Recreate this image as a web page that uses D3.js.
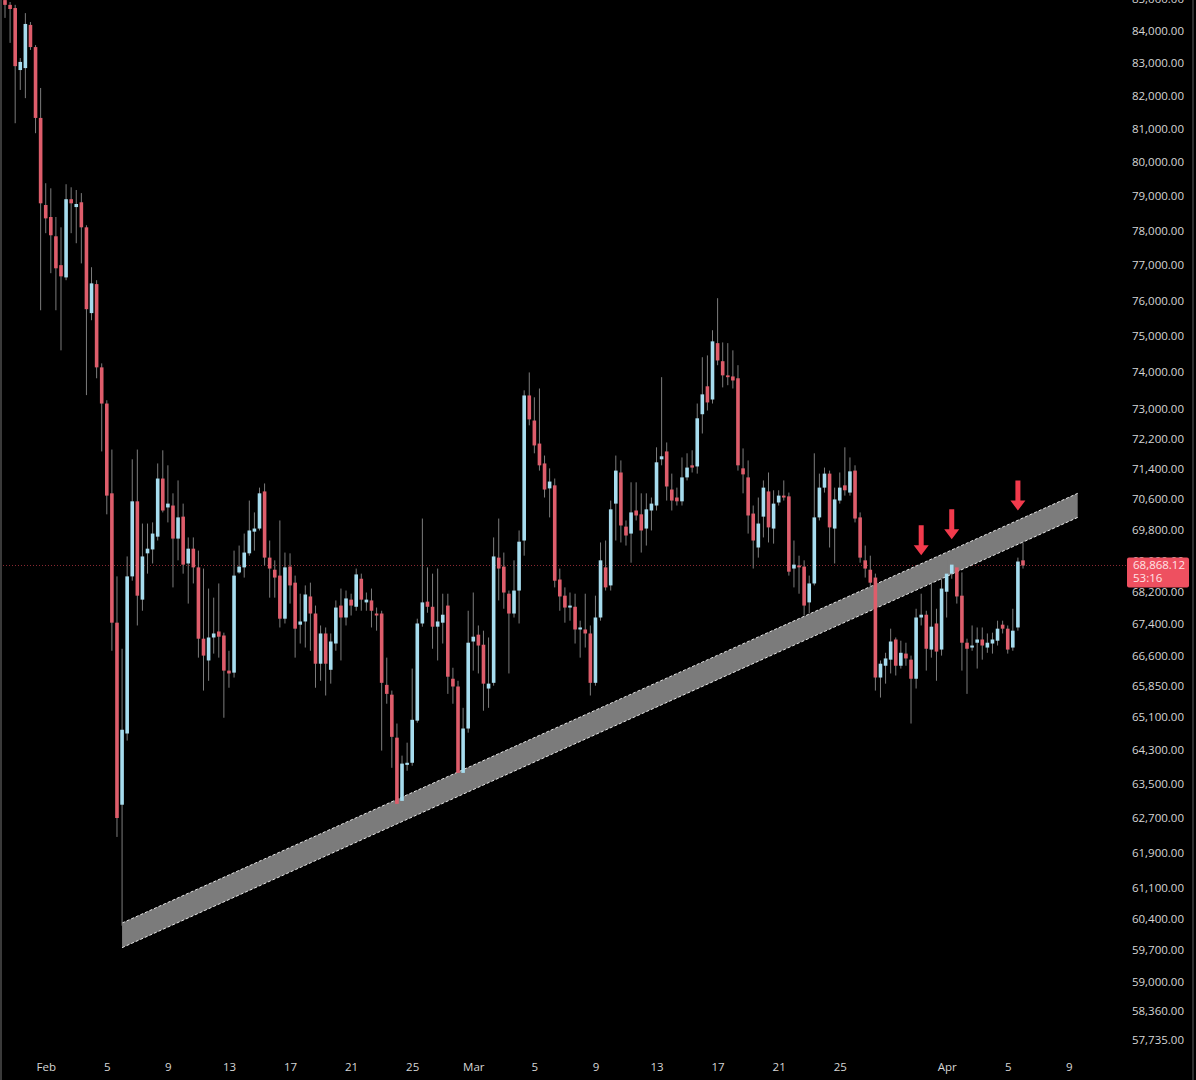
<!DOCTYPE html>
<html>
<head>
<meta charset="utf-8">
<script src="https://cdn.jsdelivr.net/npm/d3@7"></script>
<style>
  html, body { margin: 0; padding: 0; background: #000; }
  svg { display: block; }
</style>
</head>
<body>
<svg id="chart"></svg>
<script>
// 8h candles, first one opens 29 Jan 08:00 UTC
const START = "2026-01-29T08:00:00Z";

const OPEN = [
  84970, 84820, 84720, 82790, 82850, 84190, 83500, 81330, 78740, 78390,
  77830, 77000, 76650, 78910, 78680, 78820, 78090, 75640, 76460, 74130,
  73140, 70740, 67420, 63010, 64700, 68590, 70530, 68000, 69180, 69280,
  69610, 71130, 70370, 70420, 69560, 70130, 68920, 69300, 68820, 67020,
  66480, 67050, 67200, 67100, 66230, 66180, 68690, 68820, 69180, 69740,
  69820, 70790, 69070, 68760, 68610, 67520, 68840, 68430, 67370, 67450,
  68080, 67650, 66400, 67150, 66250, 66900, 67850, 67550, 68000, 67820,
  68530, 67930, 67980, 67650, 67650, 65880, 65640, 64600, 63100, 63950,
  64000, 65010, 67400, 67950, 67820, 67320, 67420, 67850, 66030, 65840,
  63760, 64820, 66950, 67120, 66870, 65790, 65930, 69070, 68840, 68150,
  67650, 68230, 69510, 73360, 72680, 72060, 71530, 70870, 70950, 68510,
  68100, 67800, 67820, 67250, 67250, 67150, 65930, 67550, 68820, 68360,
  70470, 71290, 69870, 69690, 70290, 70190, 69820, 70290, 70420, 71640,
  71850, 70840, 70630, 70530, 71160, 71480, 71450, 72850, 73610, 73250,
  74800, 74300, 73910, 73880, 73830, 71400, 71160, 70210, 69330, 70130,
  70790, 69820, 70500, 70680, 70660, 68790, 68870, 68840, 67930, 68410,
  70110, 70890, 71260, 69820, 70550, 70950, 70760, 71340, 70110, 69000,
  68760, 68560, 66060, 66350, 66500, 67000, 66350, 66650, 66500, 66030,
  67550, 67620, 66750, 67400, 66750, 68200, 68660, 68820, 68100, 66920,
  66800, 66920, 67000, 66800, 66900, 66970, 67370, 67270, 66800, 67300,
  69000
];
const HIGH = [
  85070, 84910, 84820, 83160, 84560, 84280, 83560, 82240, 79380, 79230,
  78390, 78090, 79350, 79260, 79180, 79090, 78150, 76940, 76570, 74240,
  73230, 71900, 68590, 66770, 69100, 71640, 71900, 69950, 69950, 69980,
  71530, 71880, 71480, 70740, 71080, 70470, 69590, 69590, 69250, 68790,
  68280, 68050, 68410, 67170, 66720, 69250, 69380, 69690, 70550, 70240,
  70890, 71000, 69510, 69000, 70030, 69200, 69180, 68610, 68150, 68360,
  68430, 67850, 67350, 67300, 67150, 67980, 68280, 68230, 68150, 68790,
  68660, 68180, 68280, 67800, 67720, 66550, 65740, 64940, 64170, 64480,
  66280, 67520, 70080, 68820, 68660, 68790, 68150, 68150, 66300, 65980,
  65320, 67720, 68180, 67350, 67220, 67050, 69590, 70080, 69200, 68230,
  69000, 69770, 73500, 73990, 73310, 73550, 71740, 71400, 71130, 68790,
  68310, 68180, 68150, 67470, 68150, 67350, 68100, 69460, 69510, 70550,
  71740, 71610, 70030, 71030, 71030, 70740, 70740, 70630, 71960, 73860,
  72090, 71260, 70890, 71690, 71800, 71880, 73140, 74410, 74460, 75160,
  76060, 74820, 74800, 74600, 74190, 71930, 71610, 70420, 70630, 71080,
  71290, 70820, 70820, 71080, 70760, 69510, 69120, 69000, 68610, 71800,
  71260, 71420, 71340, 70890, 71290, 71960, 71690, 71480, 70240, 69380,
  69120, 68660, 66480, 66670, 67270, 67050, 66970, 66920, 66600, 67770,
  68150, 67720, 68410, 67770, 68530, 69000, 69070, 69050, 68690, 67020,
  67350, 67300, 67300, 67150, 67170, 67470, 67470, 67350, 67770, 69070,
  69460
];
const LOW = [
  84410, 83630, 81170, 82180, 81930, 83410, 80870, 75720, 77920, 76770,
  75720, 74600, 76570, 77920, 77630, 77050, 73370, 75440, 73830, 71850,
  70190, 66720, 62260, 60240, 64530, 68480, 67350, 67720, 68660, 68920,
  69510, 70240, 69980, 68310, 69000, 68660, 67900, 68410, 66550, 65740,
  65980, 66650, 66550, 65080, 65810, 66060, 68660, 68560, 69120, 69250,
  69770, 68870, 68050, 68050, 67300, 67400, 67900, 66550, 66900, 66800,
  66720, 65810, 65980, 65620, 65910, 66720, 66480, 67350, 67600, 67720,
  67720, 67720, 67300, 67220, 64290, 65420, 63880, 62800, 62990, 63810,
  63930, 64960, 67320, 67670, 66770, 66480, 66900, 65660, 65420, 63340,
  63340, 64720, 66230, 66160, 65250, 65320, 65860, 67980, 67770, 66160,
  67550, 67400, 69120, 72550, 71800, 71340, 70630, 70110, 68310, 67720,
  67420, 67470, 66900, 66550, 66800, 65620, 65860, 67470, 68230, 68230,
  69510, 69460, 69380, 68940, 70030, 69200, 69380, 69770, 70290, 71480,
  70550, 70290, 70420, 70420, 71080, 71290, 71260, 72330, 72950, 73140,
  74190, 73580, 73640, 73550, 71340, 70740, 69690, 68790, 69070, 69590,
  69460, 69430, 70420, 70550, 68610, 68310, 68150, 67600, 67650, 68360,
  70030, 70760, 69330, 68920, 70470, 70680, 70680, 69980, 68940, 68560,
  68310, 65740, 65570, 65910, 66160, 66110, 66280, 66350, 64940, 65790,
  67350, 66230, 66550, 65980, 66600, 67550, 68530, 67900, 66230, 65660,
  66720, 66280, 66500, 66670, 66650, 66850, 67150, 66650, 66720, 67220,
  68790
];
const CLOSE = [
  84820, 84690, 82910, 83040, 84220, 83500, 81330, 78790, 78350, 77860,
  76910, 76680, 78910, 78790, 78770, 78090, 75750, 76480, 74130, 73140,
  70680, 67420, 62700, 64790, 68590, 70530, 68100, 69100, 69300, 69690,
  71130, 70290, 70470, 69560, 70110, 68890, 69300, 68820, 67020, 66600,
  67050, 67150, 67070, 66230, 66160, 68610, 68840, 69200, 69770, 69820,
  70740, 69070, 68790, 68560, 67520, 68820, 68360, 67270, 67450, 68130,
  67650, 66400, 67150, 66400, 66950, 67800, 67550, 68030, 67850, 68640,
  68000, 68000, 67720, 67600, 65930, 65660, 64620, 63030, 63980, 64000,
  65030, 67400, 67930, 67820, 67320, 67450, 67620, 66080, 65840, 63760,
  64820, 66920, 67070, 66850, 65910, 65910, 69100, 68790, 68180, 67650,
  68230, 69480, 73360, 72710, 72010, 71480, 70840, 71050, 68480, 68080,
  67800, 67850, 67250, 67300, 67150, 65930, 67550, 69000, 68310, 70320,
  71340, 69900, 69640, 70240, 70160, 69770, 70320, 70470, 71560, 71720,
  70920, 70550, 70530, 71160, 71420, 71420, 72740, 73390, 73170, 74850,
  74320, 73910, 73860, 73770, 71480, 71240, 70160, 69510, 69950, 70890,
  69850, 70470, 70680, 70630, 68710, 68890, 68820, 67850, 68410, 70110,
  70890, 71260, 69850, 70580, 70890, 70820, 71320, 70080, 69070, 68790,
  68430, 66060, 66400, 66530, 66950, 66350, 66670, 66530, 66030, 67550,
  67620, 66770, 67320, 66700, 68280, 68660, 68890, 68080, 66920, 66770,
  66850, 67000, 66850, 66920, 67000, 67270, 67270, 66750, 67220, 68970,
  68868.12
];

const PRICE_TICKS = [
  85000, 84000, 83000, 82000, 81000, 80000, 79000, 78000, 77000, 76000,
  75000, 74000, 73000, 72200, 71400, 70600, 69800, 69000, 68200, 67400,
  66600, 65850, 65100, 64300, 63500, 62700, 61900, 61100, 60400, 59700,
  59000, 58360, 57735
];
const DATE_TICKS = [
  "2026-02-01", "2026-02-05", "2026-02-09", "2026-02-13", "2026-02-17",
  "2026-02-21", "2026-02-25", "2026-03-01", "2026-03-05", "2026-03-09",
  "2026-03-13", "2026-03-17", "2026-03-21", "2026-03-25", "2026-04-01",
  "2026-04-05", "2026-04-09"
];

const LAST_PRICE = 68868.12;
const COUNTDOWN = "53:16";

// rising support band (drawn channel)
const BAND_TIMES = ["2026-02-06T00:00:00Z", "2026-04-09T14:00:00Z"];
const BAND_TOP = [60300, 70740];
const BAND_BOTTOM = [59750, 70110];

// red arrows, tip position
const ARROW_TIMES = ["2026-03-30T08:00:00Z", "2026-04-01T08:00:00Z", "2026-04-05T16:00:00Z"];
const ARROW_PRICES = [69130, 69540, 70290];

const width = 1196;
const height = 1080;
const STEP_MS = 8 * 3600 * 1000;
const UP = "#a6dcee";
const DOWN = "#de5d6b";
const WICK = "#7c7c7c";
const TEXT = "#d6d6d6";
const FONT = "'Open Sans', sans-serif";

const t0 = new Date(START);
const candles = OPEN.map((o, i) => ({
  date: new Date(+t0 + i * STEP_MS),
  open: o,
  high: HIGH[i],
  low: LOW[i],
  close: CLOSE[i],
}));

const svg = d3.select("#chart").attr("width", width).attr("height", height);

svg.append("rect").attr("width", width).attr("height", height).attr("fill", "#000");

const x = d3
  .scaleUtc()
  .domain([candles[0].date, candles[candles.length - 1].date])
  .range([5, 1023]);

const y = d3.scaleLog().domain([57735, 84000]).range([1040, 31]);

// last price dotted line
svg
  .append("line")
  .attr("x1", 0)
  .attr("x2", 1127)
  .attr("y1", y(LAST_PRICE))
  .attr("y2", y(LAST_PRICE))
  .attr("stroke", "#8a2a33")
  .attr("stroke-width", 1)
  .attr("stroke-dasharray", "1,2");

// support band
const bandPts = [
  [x(new Date(BAND_TIMES[0])), y(BAND_TOP[0])],
  [x(new Date(BAND_TIMES[1])), y(BAND_TOP[1])],
  [x(new Date(BAND_TIMES[1])), y(BAND_BOTTOM[1])],
  [x(new Date(BAND_TIMES[0])), y(BAND_BOTTOM[0])],
];
const band = svg.append("g").attr("class", "band");
band
  .append("path")
  .attr("d", d3.line()(bandPts) + "Z")
  .attr("fill", "#7b7b7b");
[[bandPts[0], bandPts[1]], [bandPts[3], bandPts[2]]].forEach((seg) => {
  band
    .append("path")
    .attr("d", d3.line()(seg))
    .attr("stroke", "#e6e6e6")
    .attr("stroke-width", 1)
    .attr("stroke-dasharray", "3,2")
    .attr("fill", "none");
});

// candles
const cg = svg.append("g").attr("class", "candles");
cg.selectAll("line")
  .data(candles)
  .join("line")
  .attr("x1", (d) => x(d.date))
  .attr("x2", (d) => x(d.date))
  .attr("y1", (d) => y(d.high))
  .attr("y2", (d) => y(d.low))
  .attr("stroke", WICK)
  .attr("stroke-width", 1);

cg.selectAll("rect")
  .data(candles)
  .join("rect")
  .attr("x", (d) => x(d.date) - 1.8)
  .attr("width", 3.6)
  .attr("y", (d) => y(Math.max(d.open, d.close)))
  .attr("height", (d) => Math.max(1.5, Math.abs(y(d.open) - y(d.close))))
  .attr("fill", (d) => (d.close >= d.open ? UP : DOWN));

// arrows
const arrowPath = "M-2.5,-30 L2.5,-30 L2.5,-10 L7.5,-10 L0,0 L-7.5,-10 L-2.5,-10 Z";
svg
  .append("g")
  .selectAll("path")
  .data(ARROW_TIMES.map((t, i) => ({ date: new Date(t), price: ARROW_PRICES[i] })))
  .join("path")
  .attr("transform", (d) => `translate(${x(d.date)},${y(d.price)})`)
  .attr("d", arrowPath)
  .attr("fill", "#f23a4c");

// price axis
const yAxis = svg
  .append("g")
  .attr("class", "y-axis")
  .attr("transform", "translate(1184,0)")
  .call(d3.axisRight(y).tickValues(PRICE_TICKS).tickFormat(d3.format(",.2f")).tickSize(0).tickPadding(0));
yAxis.select(".domain").remove();
yAxis
  .selectAll("text")
  .attr("text-anchor", "end")
  .attr("x", 0)
  .attr("fill", TEXT)
  .style("font-family", FONT)
  .style("font-size", "11.5px");

// time axis
const fmt = (d) => (d.getUTCDate() === 1 ? d3.utcFormat("%b")(d) : d3.utcFormat("%-d")(d));
const xAxis = svg
  .append("g")
  .attr("class", "x-axis")
  .attr("transform", "translate(0,1060)")
  .call(
    d3
      .axisBottom(x)
      .tickValues(DATE_TICKS.map((d) => new Date(d + "T00:00:00Z")))
      .tickFormat(fmt)
      .tickSize(0)
      .tickPadding(3)
  );
xAxis.select(".domain").remove();
xAxis
  .selectAll("text")
  .attr("fill", TEXT)
  .style("font-family", FONT)
  .style("font-size", "11.5px");

// last price label
const ly = y(LAST_PRICE);
svg
  .append("rect")
  .attr("x", 1127)
  .attr("y", ly - 8)
  .attr("width", 62)
  .attr("height", 30)
  .attr("rx", 2)
  .attr("fill", "#ee5060");
svg
  .append("text")
  .attr("x", 1133)
  .attr("y", ly + 4)
  .attr("fill", "#ffe4e7")
  .style("font-family", FONT)
  .style("font-size", "11.5px")
  .text(d3.format(",.2f")(LAST_PRICE));
svg
  .append("text")
  .attr("x", 1133)
  .attr("y", ly + 17)
  .attr("fill", "#ffe4e7")
  .style("font-family", FONT)
  .style("font-size", "11.5px")
  .text(COUNTDOWN);

// frame edges
svg.append("line").attr("x1", 1).attr("x2", 1).attr("y1", 0).attr("y2", height).attr("stroke", "#3a3a3a").attr("stroke-width", 2);
svg.append("line").attr("x1", 1193).attr("x2", 1193).attr("y1", 0).attr("y2", height).attr("stroke", "#2e2e2e").attr("stroke-width", 2);
</script>
</body>
</html>
